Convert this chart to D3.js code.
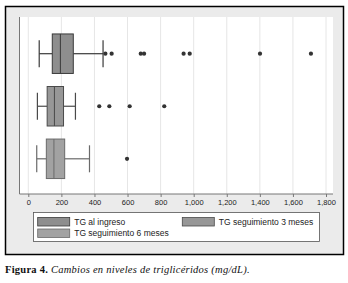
<!DOCTYPE html>
<html>
<head>
<meta charset="utf-8">
<script src="https://cdn.jsdelivr.net/npm/d3@7"></script>
<style>
  html, body { margin: 0; padding: 0; background: #fff; }
  svg { display: block; }
  .tick-label { font-family: "Liberation Sans", Arial, sans-serif; font-size: 7.5px; fill: #222; }
  .legend-text { font-family: "Liberation Sans", Arial, sans-serif; font-size: 8.5px; fill: #222; }
  .caption { font-family: "Liberation Serif", "Times New Roman", serif; font-size: 10.5px; fill: #111; letter-spacing: 0.25px; }
</style>
</head>
<body>
<svg id="chart" width="348" height="283"></svg>
<script>
/* ---------- data ---------- */
const groups = ["TG al ingreso", "TG seguimiento 3 meses", "TG seguimiento 6 meses"];
const lowWhisker = [66, 55, 51];
const q1 = [145, 114, 109];
const median = [194, 158, 155];
const q3 = [272, 213, 220];
const highWhisker = [452, 285, 370];
const outliers = [
  [466, 504, 680, 700, 939, 976, 1401, 1709],
  [429, 490, 613, 822],
  [597]
];
const xTicks = [0, 200, 400, 600, 800, 1000, 1200, 1400, 1600, 1800];

const boxFill = ["#8e8e8e", "#979797", "#a2a2a2"];
const boxLine = ["#3a3a3a", "#4a4a4a", "#6a6a6a"];

/* ---------- layout ---------- */
const svg = d3.select("#chart");
const plot = { left: 19.5, right: 333, top: 17, bottom: 194 };

const xScale = d3.scaleLinear().domain([0, 1800]).range([28.3, 326]);
const yScale = d3.scalePoint().domain(groups).range([53.7, 158.8]);
const boxH = 39.5, capH = 27;

// outer frame + grey panel
svg.append("rect")
  .attr("x", 5.5).attr("y", 6.5).attr("width", 338).attr("height", 248)
  .attr("fill", "#ebebeb").attr("stroke", "#000").attr("stroke-width", 1.5);

// white plot region
svg.append("rect")
  .attr("x", plot.left).attr("y", plot.top)
  .attr("width", plot.right - plot.left).attr("height", plot.bottom - plot.top)
  .attr("fill", "#fff");

// grid lines
svg.append("g").selectAll("line").data(xTicks).join("line")
  .attr("x1", d => xScale(d)).attr("x2", d => xScale(d))
  .attr("y1", plot.top).attr("y2", plot.bottom)
  .attr("stroke", "#e6e6e6").attr("stroke-width", 1);

// x axis
const xAxis = d3.axisBottom(xScale).tickValues(xTicks)
  .tickFormat(d3.format(",")).tickSize(3).tickSizeOuter(0);
const ax = svg.append("g").attr("transform", `translate(0,${plot.bottom})`).call(xAxis);
ax.select(".domain").remove();
ax.selectAll(".tick line").attr("stroke", "#777");
ax.selectAll(".tick text").attr("class", "tick-label").attr("y", 6).attr("dy", "0.71em");
svg.append("line")
  .attr("x1", plot.left).attr("x2", plot.right)
  .attr("y1", plot.bottom).attr("y2", plot.bottom)
  .attr("stroke", "#777");
svg.append("line")
  .attr("x1", plot.left).attr("x2", plot.left)
  .attr("y1", plot.top).attr("y2", plot.bottom)
  .attr("stroke", "#777");

/* ---------- boxes ---------- */
const rows = groups.map((g, i) => ({
  g, i, lo: lowWhisker[i], q1: q1[i], med: median[i], q3: q3[i], hi: highWhisker[i], out: outliers[i]
}));

const bx = svg.append("g").selectAll("g").data(rows).join("g");

// whiskers
bx.append("line")
  .attr("x1", d => xScale(d.lo)).attr("x2", d => xScale(d.q1))
  .attr("y1", d => yScale(d.g)).attr("y2", d => yScale(d.g))
  .attr("stroke", d => boxLine[d.i]).attr("stroke-width", 1.2);
bx.append("line")
  .attr("x1", d => xScale(d.q3)).attr("x2", d => xScale(d.hi))
  .attr("y1", d => yScale(d.g)).attr("y2", d => yScale(d.g))
  .attr("stroke", d => boxLine[d.i]).attr("stroke-width", 1.2);
// caps
bx.selectAll(".cap").data(d => [d.lo, d.hi].map(v => ({ v, d }))).join("line")
  .attr("class", "cap")
  .attr("x1", c => xScale(c.v)).attr("x2", c => xScale(c.v))
  .attr("y1", c => yScale(c.d.g) - capH / 2).attr("y2", c => yScale(c.d.g) + capH / 2)
  .attr("stroke", c => boxLine[c.d.i]).attr("stroke-width", 1.2);
// box
bx.append("rect")
  .attr("x", d => xScale(d.q1)).attr("width", d => xScale(d.q3) - xScale(d.q1))
  .attr("y", d => yScale(d.g) - boxH / 2).attr("height", boxH)
  .attr("fill", d => boxFill[d.i]).attr("stroke", d => boxLine[d.i]).attr("stroke-width", 1);
// median
bx.append("line")
  .attr("x1", d => xScale(d.med)).attr("x2", d => xScale(d.med))
  .attr("y1", d => yScale(d.g) - boxH / 2).attr("y2", d => yScale(d.g) + boxH / 2)
  .attr("stroke", d => boxLine[d.i]).attr("stroke-width", 1);
// outliers
bx.selectAll("circle").data(d => d.out.map(v => ({ v, d }))).join("circle")
  .attr("cx", o => xScale(o.v)).attr("cy", o => yScale(o.d.g))
  .attr("r", 2.1).attr("fill", "#333");

/* ---------- legend ---------- */
svg.append("rect")
  .attr("x", 33.5).attr("y", 212.5).attr("width", 286).attr("height", 29)
  .attr("fill", "#fff").attr("stroke", "#555").attr("stroke-width", 0.8);

const legendPos = [
  { x: 37.7, y: 217.5 },
  { x: 182.3, y: 217.5 },
  { x: 37.7, y: 229 }
];
const lg = svg.append("g").selectAll("g").data(groups).join("g")
  .attr("transform", (d, i) => `translate(${legendPos[i].x},${legendPos[i].y})`);
lg.append("rect")
  .attr("width", 32).attr("height", 8.5)
  .attr("fill", (d, i) => boxFill[i]).attr("stroke", (d, i) => boxLine[i]).attr("stroke-width", 0.8);
lg.append("text").attr("class", "legend-text")
  .attr("x", 36.5).attr("y", 4.5).attr("dy", "0.35em")
  .text(d => d);

/* ---------- caption ---------- */
const cap = svg.append("text").attr("class", "caption").attr("x", 5).attr("y", 273);
cap.append("tspan").attr("font-weight", "bold").text("Figura 4. ");
cap.append("tspan").attr("font-style", "italic").text("Cambios en niveles de triglicéridos (mg/dL).");
</script>
</body>
</html>
